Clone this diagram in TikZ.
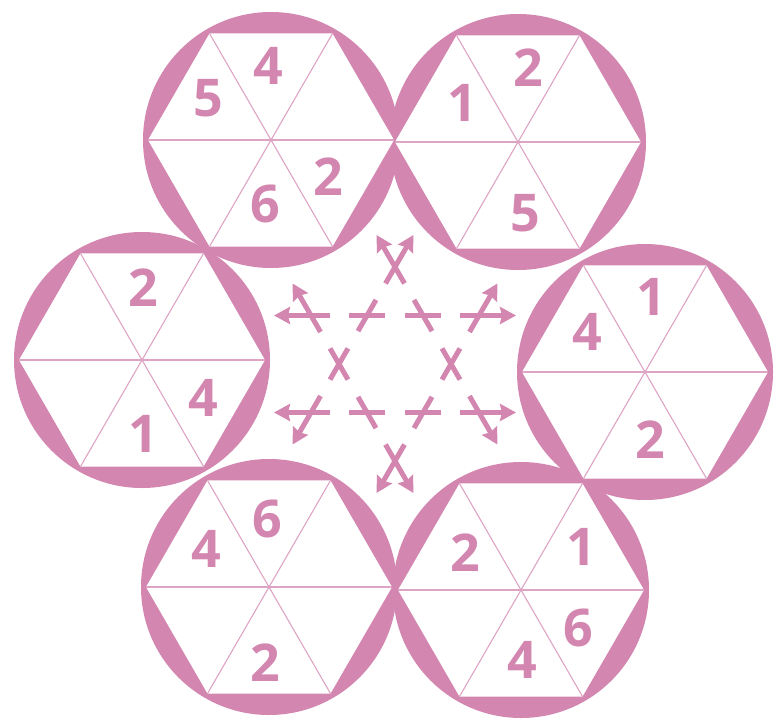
\documentclass[tikz,border=0pt]{standalone}
\usepackage{fontspec}
\setmainfont{Open Sans}
\usetikzlibrary{arrows.meta,calc}
\definecolor{pk}{RGB}{211,134,176}
\begin{document}
\begin{tikzpicture}[x=1pt,y=-1pt,
  digit/.style={text=pk,font=\fontsize{52}{52}\selectfont\bfseries,inner sep=0pt},
  dia/.style={draw=pk!75,line width=1.1pt},
  tick/.style={draw=pk,line width=5pt},
  arr/.style={tick,-{Stealth[length=16pt,width=17pt,inset=2pt]}}]
\useasboundingbox[fill=white] (0,0) rectangle (776,720);
% circle centres
\foreach \n/\x/\y in {TL/271/140,TR/518/142,L/142/360,R/645/372,BL/269/587,BR/521/590}
  {\coordinate (\n) at (\x,\y);}
% pink discs
\foreach \n in {TL,TR,L,R,BL,BR}
  {\fill[pk] (\n) circle[radius=128pt];}
% white hexagons and diameters
\foreach \n in {TL,TR,L,R,BL,BR}{
  \fill[white] ($(\n)+(0:123pt)$) -- ($(\n)+(60:123pt)$) -- ($(\n)+(120:123pt)$)
     -- ($(\n)+(180:123pt)$) -- ($(\n)+(240:123pt)$) -- ($(\n)+(300:123pt)$) -- cycle;
  \draw[dia] ($(\n)+(0:123pt)$) -- ($(\n)+(180:123pt)$);
  \draw[dia] ($(\n)+(60:123pt)$) -- ($(\n)+(240:123pt)$);
  \draw[dia] ($(\n)+(120:123pt)$) -- ($(\n)+(300:123pt)$);
}
% hexagram of arrows
\coordinate (O) at (395,364);
\coordinate (Ht) at ($(O)+(90:97pt)$);
\coordinate (Htl) at ($(O)+(150:97pt)$);
\coordinate (Hbl) at ($(O)+(210:97pt)$);
\coordinate (Hb) at ($(O)+(270:97pt)$);
\coordinate (Hbr) at ($(O)+(330:97pt)$);
\coordinate (Htr) at ($(O)+(30:97pt)$);
\foreach \p/\q in {Htl/Htr,Hbl/Hbr,Hbl/Ht,Hbr/Ht,Htl/Hb,Htr/Hb}{
  \draw[arr] ($(\p)!19pt!(\q)$) -- ($(\p)!-37pt!(\q)$);
  \draw[arr] ($(\q)!19pt!(\p)$) -- ($(\q)!-37pt!(\p)$);
  \draw[tick] ($(\p)!38pt!(\q)$) -- ($(\p)!74pt!(\q)$);
  \draw[tick] ($(\p)!94pt!(\q)$) -- ($(\p)!130pt!(\q)$);
}
% digits
\node[digit] (a1) at (208,98) {5};
\node[digit] (a2) at (268,66) {4};
\node[digit] (a3) at (328,177) {2};
\node[digit] (a4) at (265,204) {6};
\node[digit] (b1) at (462,103) {1};
\node[digit] (b2) at (528,68) {2};
\node[digit] (b3) at (525,213) {5};
\node[digit] (c1) at (143,288) {2};
\node[digit] (c2) at (203,398) {4};
\node[digit] (c3) at (143,434) {1};
\node[digit] (e1) at (651,297) {1};
\node[digit] (e2) at (587,332) {4};
\node[digit] (e3) at (650,440) {2};
\node[digit] (f1) at (267,519) {6};
\node[digit] (f2) at (206,549) {4};
\node[digit] (f3) at (265,663) {2};
\node[digit] (g1) at (465,553) {2};
\node[digit] (g2) at (581,547) {1};
\node[digit] (g3) at (578,628) {6};
\node[digit] (g4) at (522,660) {4};
\end{tikzpicture}
\end{document}
